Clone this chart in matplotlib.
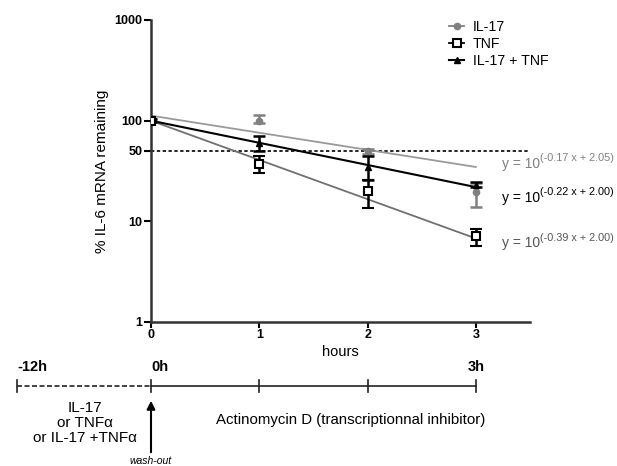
import matplotlib.pyplot as plt
import numpy as np
from matplotlib.lines import Line2D

plt.rcParams['font.family'] = ['Liberation Sans', 'DejaVu Sans']

# data
hours = [0, 1, 2, 3]
il17 = [100, 100, 50, 19.5]
il17_lo = [97, 95, 47, 14]
il17_hi = [103, 115, 52, 24]
tnf = [100, 37.5, 20, 7.1]
tnf_lo = [97, 30, 13.7, 5.7]
tnf_hi = [103, 45, 26, 8.4]
combo = [100, 60, 35, 23]
combo_lo = [97, 49.6, 26, 22]
combo_hi = [103, 71, 45, 24.5]

# fitted lines: log10(y) = a*x + b
fits = {"IL-17": (-0.17, 2.05), "TNF": (-0.39, 2.00), "IL-17 + TNF": (-0.22, 2.00)}

W, H = 617, 466
fig = plt.figure(figsize=(W / 100, H / 100), dpi=100)

x0, x1 = 151, 530
y_top, y_bot = 20, 322
ax = fig.add_axes([x0 / W, 1 - y_bot / H, (x1 - x0) / W, (y_bot - y_top) / H])
ax.set_yscale('log')
ax.set_xlim(0, 3.5)
ax.set_ylim(1, 1000)

xs = np.linspace(0, 3, 50)
a, b = fits["IL-17"]
ax.plot(xs, 10 ** (a * xs + b), color='#9a9a9a', lw=1.3, zorder=2)
a, b = fits["TNF"]
ax.plot(xs, 10 ** (a * xs + b), color='#707070', lw=1.3, zorder=2)
a, b = fits["IL-17 + TNF"]
ax.plot(xs, 10 ** (a * xs + b), color='black', lw=1.5, zorder=2)

ax.axhline(50, xmin=0, xmax=1, color='black', ls=(0, (2, 1.5)), lw=1.2, zorder=1)


def err(v, lo, hi):
    v = np.array(v); return [v - np.array(lo), np.array(hi) - v]


ax.errorbar(hours, il17, yerr=err(il17, il17_lo, il17_hi), fmt='o', color='#808080',
            ms=4.5, capsize=4, elinewidth=1.8, capthick=1.8, zorder=3)
ax.errorbar(hours, combo, yerr=err(combo, combo_lo, combo_hi), fmt='^', color='black',
            ms=5, capsize=4, elinewidth=1.8, capthick=1.8, zorder=4)
ax.errorbar(hours, tnf, yerr=err(tnf, tnf_lo, tnf_hi), fmt='s', color='black', mfc='white',
            mec='black', mew=1.5, ms=6, capsize=4, elinewidth=1.8, capthick=1.8, zorder=5)

for s in ['top', 'right']:
    ax.spines[s].set_visible(False)
for s in ['left', 'bottom']:
    ax.spines[s].set_linewidth(1.8)
    ax.spines[s].set_color('#333333')

ax.set_yticks([1, 10, 50, 100, 1000])
ax.set_yticklabels(['1', '10', '50', '100', '1000'])
ax.yaxis.set_minor_locator(plt.NullLocator())
ax.set_xticks(hours)
ax.tick_params(axis='y', length=5, width=1.5, pad=1, labelsize=9)
ax.tick_params(axis='x', length=4, width=1.5, pad=1, labelsize=9)
for t in ax.get_xticklabels() + ax.get_yticklabels():
    t.set_fontweight('bold')
ax.set_xlabel('hours', fontsize=10.5, labelpad=3)
ax.set_ylabel('% IL-6 mRNA remaining', fontsize=11, labelpad=4)

# equations, base text plus a superscript hung off its top right corner
eqs = [("(-0.17 x + 2.05)", 10 ** 1.57, '#808080'),
       ("(-0.22 x + 2.00)", 10 ** 1.23, 'black'),
       ("(-0.39 x + 2.00)", 10 ** 0.78, '#555555')]
for sup, yv, c in eqs:
    t = ax.text(3.24, yv, 'y = 10', color=c, fontsize=10, va='center')
    ax.annotate(sup, xy=(1, 0.55), xycoords=t, va='bottom', ha='left', fontsize=7.8, color=c)

handles = [
    Line2D([], [], color='#808080', marker='o', ms=4.5, lw=1.3),
    Line2D([], [], color='black', marker='s', mfc='white', mew=1.5, ms=6, lw=1.3),
    Line2D([], [], color='black', marker='^', ms=5, lw=1.5),
]
ax.legend(handles, list(fits.keys()), loc='upper left', bbox_to_anchor=(436 / W, 1 - 7 / H),
          bbox_transform=fig.transFigure, frameon=False, fontsize=10.2, handlelength=1.1,
          handletextpad=0.6, labelspacing=0.22)

# timeline below, same hour scale as the main axes
px_per_h = (x1 - x0) / 3.5
tl = fig.add_axes([0, 0, 1, 1 - 345 / H])
tl.set_xlim(-x0 / px_per_h, (W - x0) / px_per_h)
tl.set_ylim(H, 345)
tl.axis('off')
x_start = (17 - x0) / px_per_h
y_line = 386
tl.plot([x_start, 0], [y_line, y_line], color='#222222', lw=1.2, ls=(0, (3, 1.5)))
tl.plot([0, 3], [y_line, y_line], color='#222222', lw=1.2)
for xt in [x_start] + hours:
    tl.plot([xt, xt], [y_line - 6, y_line + 6], color='#222222', lw=1.2)
tl.text(x_start, 367, '-12h', fontsize=10.5, fontweight='bold', ha='left', va='center')
tl.text(0, 367, '0h', fontsize=10.5, fontweight='bold', ha='left', va='center')
tl.text(3, 367, '3h', fontsize=10.5, fontweight='bold', ha='center', va='center')
tl.text((85 - x0) / px_per_h, 423, 'IL-17\nor TNF\u03b1\nor IL-17 +TNF\u03b1', fontsize=11,
        ha='center', va='center', linespacing=1.1)
tl.text((351 - x0) / px_per_h, 420, 'Actinomycin D (transcriptionnal inhibitor)', fontsize=10.8,
        ha='center', va='center')
tl.annotate('', xy=(0, 398), xytext=(0, 455),
            arrowprops=dict(arrowstyle='-|>', color='black', lw=1.5, mutation_scale=12))
tl.text(0, 461, 'wash-out', fontsize=7.5, style='italic', ha='center', va='center')

fig.savefig('out.png', dpi=100)
